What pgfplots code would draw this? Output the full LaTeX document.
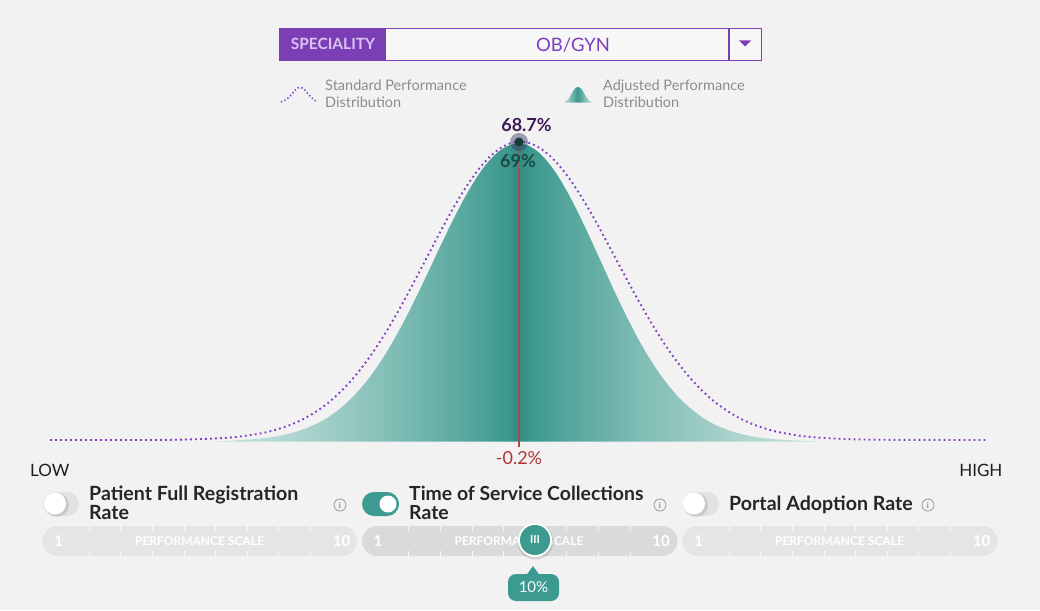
\documentclass[border=0pt]{standalone}
\usepackage{fontspec}
\setmainfont{Lato}
\newfontfamily\seriffont{Liberation Serif}
\usepackage{pgfplots}
\pgfplotsset{compat=1.18}
\definecolor{bg}{RGB}{242,242,242}
\definecolor{stdpurple}{RGB}{128,62,196}
\definecolor{boxpurple}{RGB}{124,62,180}
\definecolor{lav}{RGB}{218,194,245}
\definecolor{obpurple}{RGB}{125,62,190}
\definecolor{legendgray}{RGB}{140,140,140}
\definecolor{tL}{RGB}{198,227,223}
\definecolor{tM1}{RGB}{172,212,206}
\definecolor{tM2}{RGB}{126,188,180}
\definecolor{tM3}{RGB}{84,166,156}
\definecolor{tD}{RGB}{60,152,142}
\definecolor{tDD}{RGB}{50,140,131}
\definecolor{tealbtn}{RGB}{60,154,144}
\definecolor{linered}{RGB}{160,78,78}
\definecolor{labred}{RGB}{178,52,52}
\definecolor{peakpurple}{RGB}{62,26,84}
\definecolor{peakteal}{RGB}{28,72,66}
\definecolor{labdark}{RGB}{38,38,38}
\definecolor{toggleoff}{RGB}{226,226,226}
\definecolor{slider}{RGB}{229,229,229}
\definecolor{slideron}{RGB}{218,218,218}
\pgfdeclarehorizontalshading{tealshade}{100bp}{color(0bp)=(tL); color(25bp)=(tL); color(32bp)=(tM1); color(40bp)=(tM2); color(46bp)=(tM3); color(49bp)=(tD); color(50bp)=(tDD); color(51bp)=(tD); color(54bp)=(tM3); color(60bp)=(tM2); color(68bp)=(tM1); color(75bp)=(tL); color(100bp)=(tL)}
\pgfdeclarehorizontalshading{tealicon}{100bp}{color(0bp)=(tL); color(25bp)=(tL); color(50bp)=(tD); color(75bp)=(tL); color(100bp)=(tL)}
\newcommand{\fs}[1]{\fontsize{#1}{#1}\selectfont}
\begin{document}
\begin{tikzpicture}
\begin{axis}[
  scale only axis, width=1040pt, height=610pt,
  xmin=0, xmax=1040, ymin=0, ymax=610, y dir=reverse,
  hide axis, clip=false]
% background
\fill[bg] (0,0) rectangle (1040,610);
% header box
\fill[bg!60!white] (280,28.5) rectangle (761.5,60.5);
\fill[boxpurple] (280,28.5) rectangle (386,60.5);
\draw[boxpurple, line width=1.5pt] (280,28.5) rectangle (761.5,60.5);
\draw[boxpurple, line width=1.3pt] (729,28.5) -- (729,60.5);
\fill[boxpurple] (739,40.5) -- (751,40.5) -- (745,46.5) -- cycle;
\node[anchor=base, inner sep=0, text=lav, font=\fs{15.5}\bfseries] at (333,49.3) {SPECIALITY};
\node[anchor=base, inner sep=0, text=obpurple, font=\fs{18.5}] at (573,51.7) {OB/GYN};
% legend
\draw[stdpurple, line width=1.6pt, dash pattern=on 1.3pt off 2.4pt] plot[smooth] coordinates {(281,102) (287,99) (292,94) (296,89) (300,87.5) (304,89) (308,94) (313,99) (317,102)};
\node[anchor=base west, inner sep=0, text=legendgray, font=\fs{14.5}] at (325,90.7) {Standard Performance};
\node[anchor=base west, inner sep=0, text=legendgray, font=\fs{14.5}] at (325,107.3) {Distribution};
\shade[shading=tealicon] plot[smooth] coordinates {(563,102.5) (568,99.5) (572,93) (575,88.5) (578,87) (581,88.5) (584,93) (588,99.5) (592,102.5)} -- cycle;
\node[anchor=base west, inner sep=0, text=legendgray, font=\fs{14.5}] at (603,90.7) {Adjusted Performance};
\node[anchor=base west, inner sep=0, text=legendgray, font=\fs{14.5}] at (603,107.3) {Distribution};
% adjusted distribution (filled)
\addplot[draw=none, shading=tealshade, smooth] coordinates {
(216.5,441.5) (238.5,440.2) (258.5,438.7) (273.5,436.8) (288.5,433.8) (303.5,429.3)
(318.5,422.8) (328.5,417.0) (338.5,409.8) (348.5,401.2) (358.5,390.8) (368.5,378.7)
(378.5,364.7) (388.5,349.0) (398.5,331.5) (408.5,312.5) (418.5,292.3) (428.5,271.4)
(438.5,250.1) (448.5,229.2) (458.5,209.2) (468.5,190.8) (478.5,174.7) (488.5,161.5)
(498.5,151.6) (508.5,145.6) (518.5,143.6)
(528.5,145.7) (538.5,152.2) (548.5,162.8) (558.5,176.9) (568.5,194.1) (578.5,213.5)
(588.5,234.5) (598.5,256.3) (608.5,278.3) (618.5,299.8) (628.5,320.3) (638.5,339.4)
(648.5,356.7) (658.5,372.1) (668.5,385.6) (678.5,397.1) (688.5,406.7) (698.5,414.7)
(708.5,421.2) (718.5,426.3) (733.5,431.9) (748.5,435.7) (763.5,438.1) (778.5,439.5)
(798.5,440.6) (820.5,441.5)} -- cycle;
% standard distribution (dotted)
\addplot[stdpurple, line width=1.9pt, dash pattern=on 1.8pt off 3.2pt, smooth] coordinates {
(50,440) (150,440) (190,439.4) (220,438.2) (240,436.5) (260,433.5) (275,430.0)
(290,425.0) (305,418.2) (320,409.0) (330,401.3) (340,392.3) (350,381.9) (360,369.9)
(370,356.5) (380,341.6) (390,325.4) (400,307.9) (410,289.6) (420,270.6) (430,251.4)
(440,232.3) (450,213.9) (460,196.7) (470,181.1) (480,167.5) (490,156.5) (500,148.4)
(510,143.4) (520,141.7)
(530,143.3) (540,148.1) (550,155.9) (560,166.5) (570,179.5) (580,194.6) (590,211.3)
(600,229.2) (610,247.8) (620,266.6) (630,285.3) (640,303.4) (650,320.7) (660,337.0)
(670,352.0) (680,365.6) (690,377.8) (700,388.6) (710,397.9) (720,405.9) (735,415.7)
(750,423.1) (765,428.5) (780,432.4) (800,435.8) (820,437.7) (850,439.2) (890,439.8)
(988,440)};
% current value line
\addplot[draw=linered, line width=2pt] coordinates {(519,168) (519,447)};
\addplot[draw=linered!60!gray, line width=2pt] coordinates {(519,146) (519,168)};
\fill[gray!70!blue!60!black, opacity=0.45] (519,142) circle[radius=9pt];
\fill[peakteal!80!black] (519,142) circle[radius=4.5pt];
\node[anchor=base, inner sep=0, text=peakpurple, font=\fs{18}\bfseries] at (526.5,131) {68.7\%};
\node[anchor=base, inner sep=0, text=peakteal, font=\fs{18}\bfseries] at (518,167) {69\%};
\node[anchor=base, inner sep=0, text=labred, font=\fs{18}] at (519,464) {-0.2\%};
\node[anchor=base west, inner sep=0, text=black!88, font=\fs{17}] at (30,476.7) {LOW};
\node[anchor=base east, inner sep=0, text=black!88, font=\fs{17}] at (1002.6,476.7) {HIGH};
% toggles
\fill[toggleoff, rounded corners=12pt] (43,492) rectangle (79,516);
\fill[black, opacity=0.10] (57,505) circle[radius=12pt];
\fill[white] (55,503.5) circle[radius=11pt];
\fill[tealbtn, rounded corners=12pt] (362,492) rectangle (399,516);
\fill[white] (388,504) circle[radius=8.5pt];
\fill[toggleoff, rounded corners=12pt] (683,492) rectangle (719,516);
\fill[black, opacity=0.10] (696,505) circle[radius=12pt];
\fill[white] (694,503.5) circle[radius=11pt];
% labels
\node[anchor=base west, inner sep=0, text=labdark, font=\fs{19.6}\bfseries] at (89,500.7) {Patient Full Registration};
\node[anchor=base west, inner sep=0, text=labdark, font=\fs{19.6}\bfseries] at (89,519.3) {Rate};
\node[anchor=base west, inner sep=0, text=labdark, font=\fs{19.4}\bfseries] at (409,500.7) {Time of Service Collections};
\node[anchor=base west, inner sep=0, text=labdark, font=\fs{19.4}\bfseries] at (409,519.3) {Rate};
\node[anchor=base west, inner sep=0, text=labdark, font=\fs{19.6}\bfseries] at (729,510) {Portal Adoption Rate};
% info icons
\pgfplotsinvokeforeach{340,660,928}{
  \draw[gray!80, line width=0.8pt] (#1,505) circle[radius=6pt];
  \node[inner sep=0, text=gray!90!black, font=\seriffont\fs{9.5}] at (#1,505.5) {i};
}
% sliders
\fill[slider, rounded corners=15pt] (42.5,526) rectangle (357,556);
\fill[slideron, rounded corners=15pt] (362,526) rectangle (677.5,556);
\fill[slider, rounded corners=15pt] (682.5,526) rectangle (997.5,556);
\pgfplotsinvokeforeach{42.5,362,682.5}{
  \draw[white, opacity=0.8, line width=0.9pt]
    (#1+46.8,526) -- (#1+46.8,531) (#1+46.8,551) -- (#1+46.8,556)
    (#1+78.4,526) -- (#1+78.4,531) (#1+78.4,551) -- (#1+78.4,556)
    (#1+110.0,526) -- (#1+110.0,531) (#1+110.0,551) -- (#1+110.0,556)
    (#1+141.6,526) -- (#1+141.6,531) (#1+141.6,551) -- (#1+141.6,556)
    (#1+173.2,526) -- (#1+173.2,531) (#1+173.2,551) -- (#1+173.2,556)
    (#1+204.8,526) -- (#1+204.8,531) (#1+204.8,551) -- (#1+204.8,556)
    (#1+236.4,526) -- (#1+236.4,531) (#1+236.4,551) -- (#1+236.4,556)
    (#1+268.0,526) -- (#1+268.0,531) (#1+268.0,551) -- (#1+268.0,556);
  \node[anchor=base, inner sep=0, text=white, font=\fs{15}\bfseries] at (#1+16,546.5) {1};
  \node[anchor=base, inner sep=0, text=white, font=\fs{15}\bfseries] at (#1+299,546.5) {10};
  \node[anchor=base, inner sep=0, text=white, font=\fs{12}\bfseries] at (#1+157,545) {PERFORMANCE SCALE};
}
% knob
\fill[black, opacity=0.12] (535.5,541.5) circle[radius=18pt];
\fill[white] (535,540) circle[radius=17pt];
\fill[tealbtn] (535,540) circle[radius=15pt];
\node[inner sep=0, text=white, font=\fs{11}\bfseries] at (535,540) {III};
% tooltip
\fill[tealbtn, rounded corners=8pt] (508,574) rectangle (559,601);
\fill[tealbtn] (526.5,575) -- (533,566) -- (539.5,575) -- cycle;
\node[anchor=base, inner sep=0, text=white, font=\fs{15}] at (533.5,592.7) {10\%};
\end{axis}
\end{tikzpicture}
\end{document}
